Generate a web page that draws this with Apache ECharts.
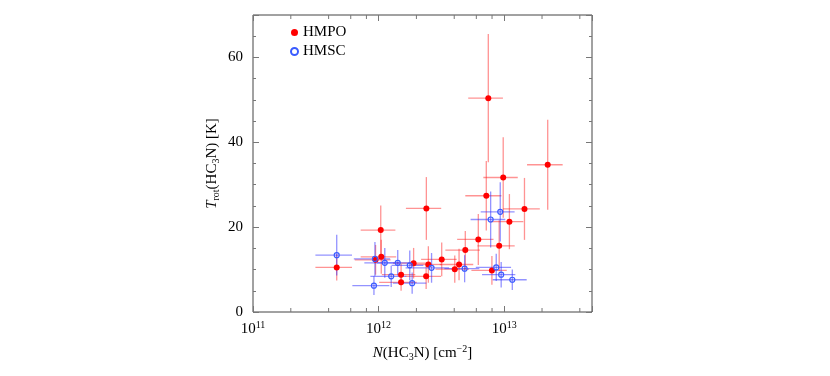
<!DOCTYPE html>
<html>
<head>
<meta charset="utf-8">
<script src="https://cdn.jsdelivr.net/npm/echarts@6/dist/echarts.min.js"></script>
<style>
  html, body { margin: 0; padding: 0; background: #fff; }
  #chart { width: 830px; height: 376px; }
</style>
</head>
<body>
<div id="chart"></div>
<script>
// HMPO (filled red)
var hmpoN = [7.47e12, 2.22e13, 9.82e12, 7.2e12, 1.45e13, 2.4e12, 1.1e13, 1.04e12, 6.22e12, 9.12e12, 4.9e12, 4.64e11,
  1.05e12, 9.46e11, 1.9e12, 2.49e12, 3.18e12, 4.37e12, 4.04e12, 1.51e12, 1.51e12, 2.39e12, 7.98e12];
var hmpoT = [50.4, 34.7, 31.7, 27.4, 24.3, 24.4, 21.3, 19.3, 17.1, 15.6, 14.6, 10.5,
  13.0, 12.3, 11.5, 11.2, 12.4, 11.2, 10.1, 8.8, 7.0, 8.4, 9.8];
var hmpoNErr = [2.3e12, 7e12, 3e12, 2.3e12, 4.7e12, 0.75e12, 3.2e12, 0.32e12, 2e12, 3e12, 1.5e12, 1.5e11,
  0.33e12, 0.3e12, 0.6e12, 0.7e12, 1e12, 1.3e12, 1.2e12, 0.45e12, 0.5e12, 0.75e12, 2.5e12];
var hmpoTErr = [15.1, 10.6, 9.5, 8.2, 7.3, 7.4, 6.5, 5.8, 6, 6, 4.5, 3.1,
  4, 3.5, 3.6, 4.3, 4, 3.7, 3.2, 2.5, 2, 3, 3.4];

// HMSC (open blue)
var hmscN = [4.64e11, 9.18e11, 9.35e11, 1.12e12, 1.26e12, 1.42e12, 1.77e12, 1.85e12, 2.64e12, 4.84e12,
  7.8e12, 9.3e12, 8.64e12, 9.46e12, 1.16e13];
var hmscT = [13.4, 6.2, 12.5, 11.6, 8.4, 11.6, 11.0, 6.8, 10.4, 10.2, 21.8, 23.6, 10.5, 8.8, 7.6];
var hmscNErr = [1.5e11, 0.3e12, 0.3e12, 0.35e12, 0.4e12, 0.45e12, 0.5e12, 0.55e12, 1e12, 1.5e12,
  2.4e12, 2.8e12, 2.7e12, 2.8e12, 3.5e12];
var hmscTErr = [4.8, 2.2, 4, 3.5, 2.5, 3, 3.5, 2.5, 3.5, 3.2, 6.6, 7, 3.2, 3, 2.4];

// log-axis minor ticks (2,4,6,8 x 10^n)
var minorX = [2e11, 4e11, 6e11, 8e11, 2e12, 4e12, 6e12, 8e12, 2e13, 4e13];

var serif = 'Liberation Serif';
var chart = echarts.init(document.getElementById('chart'));

function rows (n, t, ne, te) {
  return n.map(function (v, i) { return [v, t[i], ne[i], te[i]]; });
}

function errRender (color) {
  return function (params, api) {
    var x = api.value(0), y = api.value(1), xe = api.value(2), ye = api.value(3);
    var c = api.coord([x, y]);
    var l = api.coord([x - xe, y]), r = api.coord([x + xe, y]);
    var t = api.coord([x, y + ye]), b = api.coord([x, y - ye]);
    var st = { stroke: color, lineWidth: 1.3 };
    return {
      type: 'group',
      children: [
        { type: 'line', shape: { x1: l[0], y1: c[1], x2: r[0], y2: c[1] }, style: st },
        { type: 'line', shape: { x1: c[0], y1: t[1], x2: c[0], y2: b[1] }, style: st }
      ]
    };
  };
}

var supRich = {
  sup: { fontFamily: serif, fontSize: 10, color: '#000', padding: [0, 0, 9, 0] },
  sub: { fontFamily: serif, fontSize: 10, color: '#000', padding: [8, 0, 0, 0] },
  it: { fontFamily: serif, fontSize: 15, color: '#000', fontStyle: 'italic' }
};

var noLine = { show: false, onZero: false };

chart.setOption({
  animation: false,
  grid: { left: 253, top: 15, right: 238, bottom: 64, show: true, borderColor: '#444', borderWidth: 1, backgroundColor: 'transparent' },
  legend: {
    orient: 'vertical', left: 285, top: 20, itemWidth: 7, itemHeight: 7, itemGap: 4,
    textStyle: { fontFamily: serif, fontSize: 15, color: '#000' },
    data: ['HMPO', 'HMSC']
  },
  xAxis: [{
    type: 'log', logBase: 10, min: 1e11, max: 5e13, position: 'bottom',
    axisLine: noLine,
    axisTick: { inside: true, length: 6, lineStyle: { color: '#777' } },
    splitLine: { show: false },
    axisLabel: {
      margin: 8, color: '#000', fontFamily: serif, fontSize: 15, rich: supRich,
      formatter: function (v) {
        var e = Math.round(Math.log10(v));
        if (Math.abs(Math.log10(v) - e) > 1e-6) return '';
        return '10{sup|' + e + '}';
      }
    },
    name: '{it|N}(HC{sub|3}N) [cm{sup|\u22122}]', nameLocation: 'middle', nameGap: 32,
    nameTextStyle: { fontFamily: serif, fontSize: 15, color: '#000', rich: supRich }
  }, {
    type: 'log', logBase: 10, min: 1e11, max: 5e13, position: 'top',
    axisLine: noLine,
    axisTick: { inside: true, length: 6, lineStyle: { color: '#777' } },
    axisLabel: { show: false }, splitLine: { show: false }
  }],
  yAxis: [{
    type: 'value', min: 0, max: 70, interval: 20, position: 'left',
    axisLine: noLine,
    axisTick: { inside: true, length: 6, lineStyle: { color: '#777' } },
    splitLine: { show: false },
    axisLabel: {
      margin: 10, color: '#000', fontFamily: serif, fontSize: 15,
      formatter: function (v) { return v % 20 === 0 ? String(v) : ''; }
    },
    name: '{it|T}{sub|rot}(HC{sub|3}N) [K]', nameLocation: 'middle', nameGap: 32,
    nameTextStyle: { fontFamily: serif, fontSize: 15, color: '#000', rich: supRich }
  }, {
    type: 'value', min: 0, max: 70, interval: 5, position: 'left',
    axisLine: noLine, axisLabel: { show: false }, splitLine: { show: false },
    axisTick: { inside: true, length: 3, lineStyle: { color: '#777' } }
  }, {
    type: 'value', min: 0, max: 70, interval: 20, position: 'right',
    axisLine: noLine, axisLabel: { show: false }, splitLine: { show: false },
    axisTick: { inside: true, length: 6, lineStyle: { color: '#777' } }
  }, {
    type: 'value', min: 0, max: 70, interval: 5, position: 'right',
    axisLine: noLine, axisLabel: { show: false }, splitLine: { show: false },
    axisTick: { inside: true, length: 3, lineStyle: { color: '#777' } }
  }],
  series: [{
    type: 'custom', name: 'minorTicks', silent: true, clip: false, z: 1,
    data: minorX.map(function (v) { return [v]; }),
    encode: { x: 0 },
    renderItem: function (params, api) {
      var bot = api.coord([api.value(0), 0]);
      var top = api.coord([api.value(0), 70]);
      var st = { stroke: '#777', lineWidth: 1 };
      return {
        type: 'group', children: [
          { type: 'line', shape: { x1: bot[0], y1: bot[1], x2: bot[0], y2: bot[1] - 4 }, style: st },
          { type: 'line', shape: { x1: top[0], y1: top[1], x2: top[0], y2: top[1] + 4 }, style: st }
        ]
      };
    }
  }, {
    type: 'custom', name: 'hmpoErr', silent: true, z: 2,
    data: rows(hmpoN, hmpoT, hmpoNErr, hmpoTErr),
    encode: { x: 0, y: 1 },
    renderItem: errRender('rgba(255,40,40,0.5)')
  }, {
    type: 'custom', name: 'hmscErr', silent: true, z: 3,
    data: rows(hmscN, hmscT, hmscNErr, hmscTErr),
    encode: { x: 0, y: 1 },
    renderItem: errRender('rgba(40,40,255,0.5)')
  }, {
    type: 'scatter', name: 'HMPO', z: 4,
    symbol: 'circle', symbolSize: 6,
    itemStyle: { color: '#ff0000', opacity: 1 },
    data: hmpoN.map(function (v, i) { return [v, hmpoT[i]]; })
  }, {
    type: 'scatter', name: 'HMSC', z: 5,
    symbol: 'circle', symbolSize: 5,
    itemStyle: { color: 'rgba(0,0,0,0)', borderColor: '#3a5cff', borderWidth: 1.2, opacity: 1 },
    data: hmscN.map(function (v, i) { return [v, hmscT[i]]; })
  }]
});
</script>
</body>
</html>
